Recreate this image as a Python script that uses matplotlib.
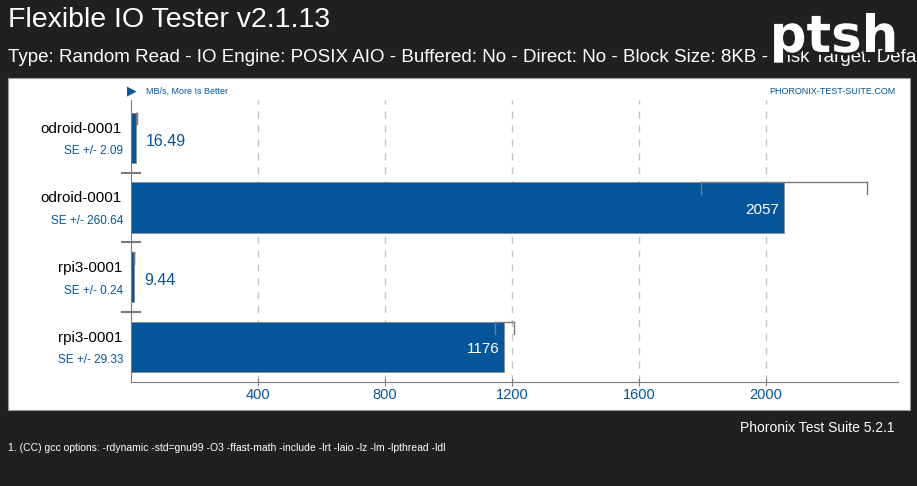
import matplotlib
matplotlib.use("Agg")
import matplotlib.pyplot as plt
import matplotlib.patheffects as pe
from matplotlib.patches import Rectangle

# data
labels = ["odroid-0001", "odroid-0001", "rpi3-0001", "rpi3-0001"]
values = [16.49, 2057, 9.44, 1176]
se = [2.09, 260.64, 0.24, 29.33]
xticks = [400, 800, 1200, 1600, 2000]

BG = "#221f20"
BLUE = "#05559a"
GRID = "#c4c4c4"
AXC = "#7a7a7a"
plt.rcParams["font.family"] = ["Liberation Sans", "DejaVu Sans"]

W, H = 917, 486
fig = plt.figure(figsize=(W / 100, H / 100), dpi=100, facecolor=BG)

def fx(px):
    return px / W

def fy(py):
    return 1 - py / H

# white panel
fig.patches.append(Rectangle((fx(8), fy(410)), fx(910 - 8), (410 - 78) / H,
                             transform=fig.transFigure, facecolor="white",
                             edgecolor="#9a9a9a", linewidth=0.8, zorder=-5))

# header
fig.text(fx(8), fy(20), "Flexible IO Tester v2.1.13", color="white",
         fontsize=20.5, va="center", ha="left")
fig.text(fx(8), fy(57),
         "Type: Random Read - IO Engine: POSIX AIO - Buffered: No - Direct: No - "
         "Block Size: 8KB - Disk Target: Default Test Directory",
         color="white", fontsize=13.5, va="center", ha="left")
fig.text(fx(834), fy(38), "ptsh", color="white", fontsize=37, fontweight="bold",
         family=["DejaVu Sans"], va="center", ha="center",
         path_effects=[pe.withStroke(linewidth=4, foreground=BG)])

# footer
fig.text(fx(895), fy(428), "Phoronix Test Suite 5.2.1", color="white",
         fontsize=10, ha="right", va="center")
fig.text(fx(8), fy(448),
         "1. (CC) gcc options: -rdynamic -std=gnu99 -O3 -ffast-math -include -lrt -laio -lz -lm -lpthread -ldl",
         color="white", fontsize=7.5, ha="left", va="center")

# plot area
ax = fig.add_axes([fx(131), fy(382), fx(898 - 131), (382 - 100) / H])
ax.set_facecolor("none")
xmax = (898 - 131) * 400 / 127
ax.set_xlim(0, xmax)
ax.set_ylim(3.5, -0.54)

n = len(values)
bh = 0.72
pos = list(range(n))
px = 400 / 127  # data units per pixel

for t in xticks:
    ax.axvline(t, color=GRID, linestyle=(0, (5, 5)), linewidth=1, zorder=0)

ax.barh(pos, values, height=bh, color=BLUE, edgecolor="#8a8a8a",
        linewidth=0.6, zorder=2)

# error bars along the top edge of each bar
cap = 0.17
for i, (v, e) in enumerate(zip(values, se)):
    top = i - bh / 2
    lo, hi = v - e, v + e
    ax.plot([lo, hi], [top, top], color=AXC, linewidth=1, zorder=3)
    ax.plot([lo, lo], [top, top + cap], color=AXC, linewidth=1, zorder=3)
    ax.plot([hi, hi], [top, top + cap], color=AXC, linewidth=1, zorder=3)

# value labels
for i, v in enumerate(values):
    txt = f"{v:g}"
    if v > 200:
        ax.text(v - 5 * px, i + 0.03, txt, color="white", fontsize=11,
                ha="right", va="center", zorder=4)
    else:
        ax.text(v + 10 * px, i + 0.05, txt, color=BLUE, fontsize=11.5,
                ha="left", va="center", zorder=4)

# category labels
for i, (lab, e) in enumerate(zip(labels, se)):
    ax.text(-9 * px, i - 0.13, lab, color="black", fontsize=11,
            ha="right", va="center", clip_on=False)
    ax.text(-8 * px, i + 0.19, f"SE +/- {e:.2f}", color=BLUE,
            fontsize=8.5, ha="right", va="center", clip_on=False)

# separators between groups
for k in range(1, n):
    ax.plot([-9 * px, 9 * px], [k - 0.5, k - 0.5], color=AXC,
            linewidth=1.5, clip_on=False, zorder=3)

for s in ["top", "right"]:
    ax.spines[s].set_visible(False)
ax.spines["left"].set_color(AXC)
ax.spines["bottom"].set_color(AXC)
ax.set_yticks([])
ax.set_xticks(xticks)
ax.set_xticklabels([str(t) for t in xticks], color=BLUE, fontsize=10.5)
ax.tick_params(axis="x", colors=AXC, labelcolor=BLUE, length=6, direction="inout",
               pad=1)

# top annotations
fig.text(fx(127), fy(91), "\u25B6", color=BLUE, fontsize=9, ha="left",
         va="center", family=["DejaVu Sans"])
fig.text(fx(146), fy(91), "MB/s, More Is Better", color=BLUE, fontsize=6.5,
         ha="left", va="center")
fig.text(fx(895), fy(91), "PHORONIX-TEST-SUITE.COM", color=BLUE, fontsize=6.5,
         ha="right", va="center")

fig.savefig("out.png", dpi=100, facecolor=BG)
